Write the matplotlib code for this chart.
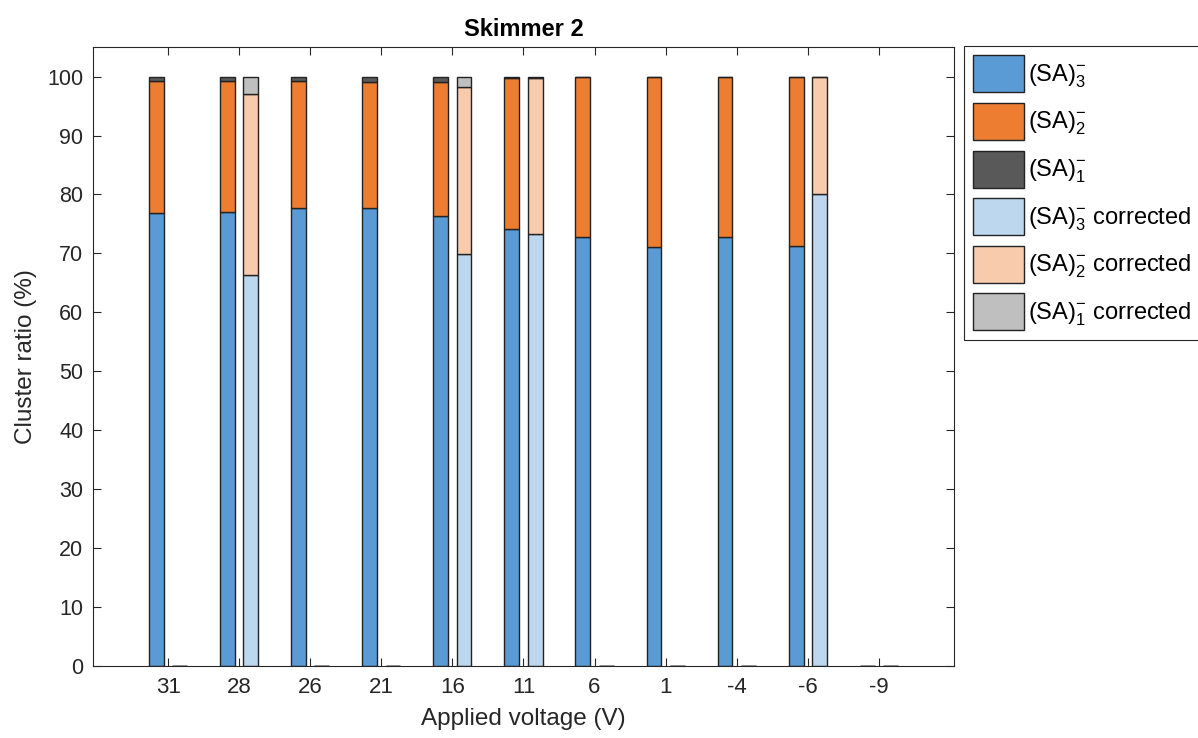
import matplotlib
matplotlib.use("Agg")
import matplotlib.pyplot as plt
import numpy as np

plt.rcParams['font.family'] = ['Liberation Sans', 'DejaVu Sans']
plt.rcParams['mathtext.default'] = 'regular'

voltages = ['31', '28', '26', '21', '16', '11', '6', '1', '-4', '-6', '-9']
sa3 = [76.8, 77.0, 77.7, 77.7, 76.35, 74.1, 72.7, 71.1, 72.8, 71.3, 0]
sa2 = [22.5, 22.3, 21.6, 21.45, 22.75, 25.6, 27.3, 28.9, 27.2, 28.7, 0]
sa1 = [0.7, 0.7, 0.7, 0.85, 0.9, 0.3, 0, 0, 0, 0, 0]
sa3_corr = [0, 66.4, 0, 0, 69.85, 73.3, 0, 0, 0, 80.0, 0]
sa2_corr = [0, 30.6, 0, 0, 28.4, 26.4, 0, 0, 0, 20.0, 0]
sa1_corr = [0, 3.0, 0, 0, 1.75, 0.3, 0, 0, 0, 0, 0]

labels = [r'$(SA)^{-}_{3}$', r'$(SA)^{-}_{2}$', r'$(SA)^{-}_{1}$',
          r'$(SA)^{-}_{3}$ corrected', r'$(SA)^{-}_{2}$ corrected', r'$(SA)^{-}_{1}$ corrected']
colors = ['#5B9BD5', '#ED7D31', '#595959', '#BDD7EE', '#F8CBAD', '#BFBFBF']

fig = plt.figure(figsize=(11.98, 7.38), dpi=100)
ax = fig.add_axes([0.0776, 0.098, 0.7187, 0.838])

x = np.arange(1, len(voltages) + 1)
w = 0.21
off = 0.163
ec = '#222222'
lw = 1.0

handles = []
b = np.zeros(len(x))
for vals, c, lab in zip([sa3, sa2, sa1], colors[:3], labels[:3]):
    h = ax.bar(x - off, vals, w, bottom=b, color=c, edgecolor=ec, linewidth=lw, label=lab)
    handles.append(h)
    b = b + np.array(vals)
b = np.zeros(len(x))
for vals, c, lab in zip([sa3_corr, sa2_corr, sa1_corr], colors[3:], labels[3:]):
    h = ax.bar(x + off, vals, w, bottom=b, color=c, edgecolor=ec, linewidth=lw, label=lab)
    handles.append(h)
    b = b + np.array(vals)

ax.set_xlim(-0.06, 12.06)
ax.set_ylim(0, 105)
ax.set_xticks(x)
ax.set_xticklabels(voltages)
ax.set_yticks(np.arange(0, 101, 10))
ax.tick_params(direction='in', top=True, right=True, length=6, width=0.8,
               labelsize=16, colors='#262626')
ax.tick_params(axis='x', pad=8)
ax.tick_params(axis='y', pad=7, labelsize=15.5)
for s in ax.spines.values():
    s.set_linewidth(0.8)
    s.set_color('#262626')

ax.set_xlabel('Applied voltage (V)', fontsize=17.5, color='#262626', labelpad=7)
ax.set_ylabel('Cluster ratio (%)', fontsize=17.5, color='#262626', labelpad=7)
ax.set_title('Skimmer 2', fontsize=17, fontweight='bold', pad=8)

leg = fig.legend(handles=handles, labels=labels, loc='upper left',
                 bbox_to_anchor=(964 / 1198, 1 - 46 / 738),
                 fontsize=17, handlelength=2.12, handleheight=2.03,
                 labelspacing=0.45, handletextpad=0.17, borderpad=0.4,
                 borderaxespad=0, fancybox=False, framealpha=1)
leg.get_frame().set_edgecolor('#262626')
leg.get_frame().set_linewidth(0.8)

fig.savefig('out.png', dpi=100)
